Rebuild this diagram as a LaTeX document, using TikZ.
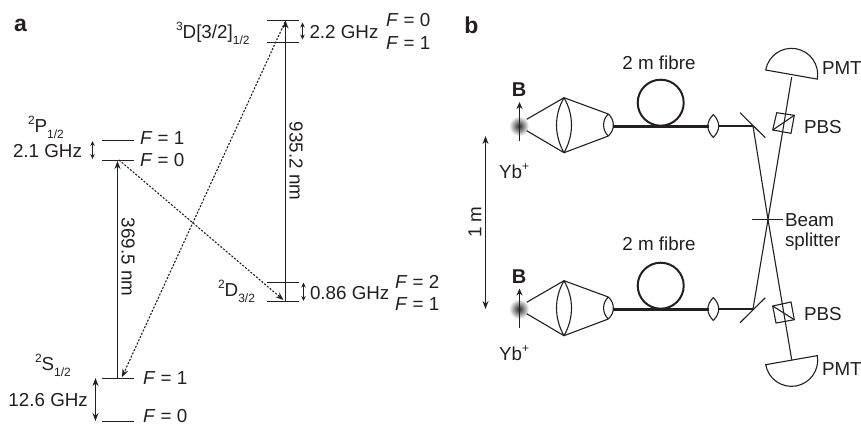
\documentclass[tikz,border=0pt]{standalone}
\usepackage{fontspec}
\setmainfont{Liberation Sans}
\usetikzlibrary{arrows.meta}
\definecolor{ink}{HTML}{231F20}
\newcommand{\supx}[1]{\raisebox{0.42em}{\fontsize{12}{12}\selectfont #1}}
\newcommand{\subx}[1]{\raisebox{-0.32em}{\fontsize{12}{12}\selectfont #1}}
\newcommand{\Fx}[1]{\textit{F} = #1}
\tikzset{
  x=1pt,y=1pt,
  every path/.style={color=ink,line width=1.1pt},
  txt/.style={font=\fontsize{18.8}{20}\selectfont,text=ink,inner sep=0pt,outer sep=0pt},
  lbl/.style={txt,anchor=west},
  panel/.style={font=\fontsize{23}{24}\selectfont\bfseries,text=ink,inner sep=0pt},
  bold/.style={font=\fontsize{20}{20}\selectfont\bfseries,text=ink,inner sep=0pt},
  tip/.style={-{Stealth[length=8pt,width=6pt]}},
  small2/.style={{Stealth[length=5pt,width=4.5pt]}-{Stealth[length=5pt,width=4.5pt]}},
  big2/.style={{Stealth[length=8pt,width=6pt]}-{Stealth[length=8pt,width=6pt]}},
  dots/.style={dash pattern=on 2pt off 1.6pt,line width=1.1pt},
  fib/.style={line width=3pt},
}
\begin{document}
\begin{tikzpicture}
\useasboundingbox (0,0) rectangle (861,-424);
% ---------- panel a
\node[panel] (pa) at (20.5,-25) {a};
% levels
\coordinate (d3a) at (267,-20.5);  \coordinate (d3b) at (299,-20.5);
\coordinate (d3c) at (267,-42.5);\coordinate (d3e) at (299,-42.5);
\draw (d3a) -- (d3b); \draw (d3c) -- (d3e);
\coordinate (p1a) at (102,-140.5); \coordinate (p1b) at (134,-140.5);
\coordinate (p0a) at (102,-160.5); \coordinate (p0b) at (134,-160.5);
\draw (p1a) -- (p1b); \draw (p0a) -- (p0b);
\coordinate (d2a) at (267,-282.5); \coordinate (d2b) at (299,-282.5);
\coordinate (d1a) at (267,-301.5); \coordinate (d1b) at (299,-301.5);
\draw (d2a) -- (d2b); \draw (d1a) -- (d1b);
\coordinate (s1a) at (102,-378.5); \coordinate (s1b) at (134,-378.5);
\coordinate (s0a) at (102,-421.5); \coordinate (s0b) at (134,-421.5);
\draw (s1a) -- (s1b); \draw (s0a) -- (s0b);
% transitions
\coordinate (t1) at (117.5,-378.5); \coordinate (t2) at (117.5,-161);
\coordinate (t3) at (285.5,-301.5); \coordinate (t4) at (285.5,-20.5);
\coordinate (t5) at (119,-160); \coordinate (t6) at (283.5,-300);
\coordinate (t7) at (285,-22); \coordinate (t8) at (122,-377);
\draw[tip] (t1) -- (t2);
\draw[tip] (t3) -- (t4);
\draw[dots,tip] (t5) -- (t6);
\draw[dots,tip] (t7) -- (t8);
% splittings
\coordinate (u1) at (302.5,-22.5); \coordinate (u2) at (302.5,-39.5);
\draw[small2] (u1) -- (u2);
\coordinate (u3) at (92.5,-141); \coordinate (u4) at (92.5,-159);
\draw[small2] (u3) -- (u4);
\coordinate (u5) at (303.5,-282.5); \coordinate (u6) at (303.5,-301);
\draw[small2] (u5) -- (u6);
\coordinate (u7) at (95.5,-378); \coordinate (u8) at (95.5,-421);
\draw[big2] (u7) -- (u8);
% labels
\node[lbl] (l1) at (176,-33) {\supx{3}D[3/2]\subx{1/2}};
\node[lbl] (l2) at (309.5,-32) {2.2 GHz};
\node[lbl] (l3) at (386,-20) {\Fx{0}};
\node[lbl] (l4) at (386,-43) {\Fx{1}};
\node[lbl] (l5) at (28,-127) {\supx{2}P\subx{1/2}};
\node[lbl] (l6) at (13,-151) {2.1 GHz};
\node[lbl] (l7) at (140,-138) {\Fx{1}};
\node[lbl] (l8) at (140,-160.5) {\Fx{0}};
\node[lbl] (l9) at (218,-291) {\supx{2}D\subx{3/2}};
\node[lbl] (l10) at (310,-293) {0.86 GHz};
\node[lbl] (l11) at (395,-282) {\Fx{2}};
\node[lbl] (l12) at (395,-304) {\Fx{1}};
\node[lbl] (l13) at (35,-365) {\supx{2}S\subx{1/2}};
\node[lbl] (l14) at (8.5,-400) {12.6 GHz};
\node[lbl] (l15) at (143,-378) {\Fx{1}};
\node[lbl] (l16) at (143,-416) {\Fx{0}};
\node[txt,rotate=-90] (l17) at (128,-257) {369.5 nm};
\node[txt,rotate=-90] (l18) at (296,-161) {935.2 nm};
% ---------- panel b
\node[panel] (pb) at (471.5,-25) {b};
% 1 m
\coordinate (m1) at (485.5,-136); \coordinate (m2) at (485.5,-309);
\draw[big2] (m1) -- (m2);
\node[txt,rotate=90] (l19) at (475,-222) {1 m};
% beams between the mirrors and the PMTs
\coordinate (mt) at (753,-126); \coordinate (mb) at (753,-309);
\coordinate (x) at (768,-219.5);
\coordinate (pt) at (791.7,-77); \coordinate (pb2) at (791.7,-359.7);
\draw (mt) -- (x) -- (pb2);
\draw (mb) -- (x) -- (pt);
% beam splitter
\coordinate (bs1) at (751.7,-219.5); \coordinate (bs2) at (783,-219.5);
\draw (bs1) -- (bs2);
\node[lbl] (l20) at (785,-220) {Beam};
\node[lbl] (l21) at (785,-242) {splitter};
% PMTs
\draw (765.7,-70) arc[start angle=170,end angle=-10,radius=26.2] -- cycle;
\draw (765.7,-364.7) arc[start angle=190,end angle=370,radius=26.2] -- cycle;
\node[lbl] (l22) at (822,-68) {PMT};
\node[lbl] (l23) at (822,-369) {PMT};
% PBS
\coordinate (a1) at (776.7,-112.7); \coordinate (a2) at (794.3,-115.3);
\coordinate (a3) at (791,-133.3);   \coordinate (a4) at (772.7,-130);
\draw (a1) -- (a2) -- (a3) -- (a4) -- cycle;
\draw (a2) -- (a4);
\coordinate (b1) at (772.7,-306);  \coordinate (b2) at (791,-302);
\coordinate (b3) at (794.3,-319.7);\coordinate (b4) at (776,-323);
\draw (b1) -- (b2) -- (b3) -- (b4) -- cycle;
\draw (b1) -- (b3);
\node[lbl] (l24) at (804,-127) {PBS};
\node[lbl] (l25) at (804,-314) {PBS};
% mirrors
\coordinate (c1) at (740,-112.7); \coordinate (c2) at (765.3,-137.7);
\draw (c1) -- (c2);
\coordinate (c3) at (740,-322.7); \coordinate (c4) at (765.3,-297.7);
\draw (c3) -- (c4);
% the two arms: \dy shifts the optics, \bd the B arrow and label, \td the texts
\foreach \dy/\bd/\td/\top in {0/0/0/1,-183/-186.5/-181.5/2}{
  \shade[inner color=black!85,outer color=white,draw=none,yshift=\dy] (519,-126) circle (10);
  \begin{scope}[yshift=\bd]
  \coordinate (ba\top) at (519.5,-141); \coordinate (bb\top) at (519.5,-102);
  \draw[-{Stealth[length=7pt,width=6pt]}] (ba\top) -- (bb\top);
  \node[bold] (B\top) at (519,-90) {B};
  \end{scope}
  \begin{scope}[yshift=\td]
  \node[lbl] (Y\top) at (499,-171.5) {Yb\supx{+}};
  \node[txt] (T\top) at (659,-62.5) {2 m fibre};
  \end{scope}
  \begin{scope}[yshift=\dy]
  \coordinate (e1\top) at (526.7,-119.3); \coordinate (e2\top) at (564,-97.7); \coordinate (e3\top) at (608.3,-114);
  \coordinate (e4\top) at (526.7,-130.7); \coordinate (e5\top) at (564,-152.7); \coordinate (e6\top) at (608.3,-136);
  \draw (e1\top) -- (e2\top) -- (e3\top);
  \draw (e4\top) -- (e5\top) -- (e6\top);
  \draw (e2\top) .. controls (554,-115) and (554,-135) .. (e5\top);
  \draw (e2\top) .. controls (574,-115) and (574,-135) .. (e5\top);
  \draw (e3\top) .. controls (602,-120) and (602,-130) .. (e6\top);
  \draw (e3\top) .. controls (615,-120) and (615,-130) .. (e6\top);
  \coordinate (f1\top) at (612.5,-126); \coordinate (f2\top) at (709,-126);
  \draw[fib] (f1\top) -- (f2\top);
  \draw[line width=2pt] (660.7,-102.7) circle (23);
  \coordinate (g1\top) at (713.3,-114.5); \coordinate (g2\top) at (713.3,-137.5);
  \draw (g1\top) .. controls (706,-122) and (706,-130) .. (g2\top);
  \draw (g1\top) .. controls (720.5,-122) and (720.5,-130) .. (g2\top);
  \coordinate (g3\top) at (718,-126); \coordinate (g4\top) at (753,-126);
  \draw (g3\top) -- (g4\top);
  \end{scope}
}
\end{tikzpicture}
\end{document}
